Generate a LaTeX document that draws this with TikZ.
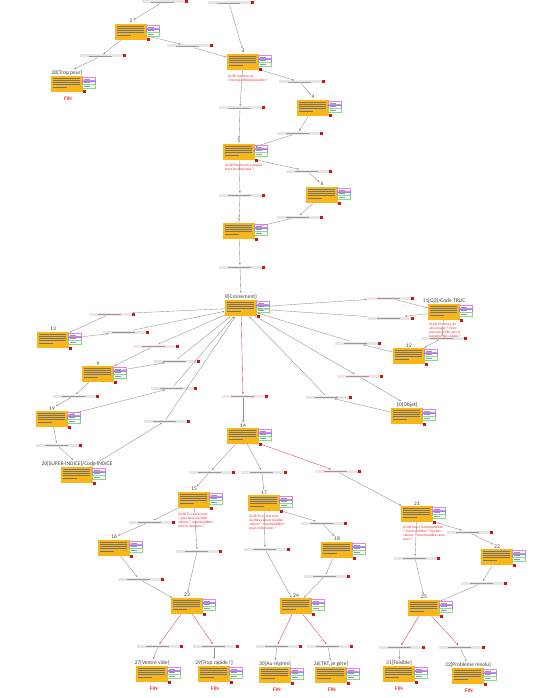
\documentclass[tikz,border=0pt]{standalone}
\usepackage{fontspec}
\setmainfont{Carlito}
\usetikzlibrary{positioning, arrows.meta}
\definecolor{ficheorange}{RGB}{249,182,22}
\definecolor{carrerouge}{RGB}{200,20,30}
\definecolor{lienrose}{RGB}{210,60,110}
\definecolor{noterouge}{RGB}{235,50,50}
\definecolor{ongletrose}{RGB}{225,130,235}
\definecolor{ongletbleu}{RGB}{140,140,240}
\definecolor{ongletvert}{RGB}{130,220,130}
\definecolor{choixgris}{RGB}{230,230,230}
\definecolor{choixrose}{RGB}{250,226,229}

\tikzset{
  fiche/.style={fill=ficheorange, minimum width=32pt, minimum height=16pt, inner sep=0pt},
  titre/.style={font=\fontsize{5.5}{6}\selectfont, text=black!75, inner sep=0.6pt, anchor=south},
  onglet/.style={draw, fill=white, line width=0.25pt, minimum width=13pt, minimum height=3.6pt, inner sep=0pt},
  carre/.style={fill=carrerouge, minimum size=3pt, inner sep=0pt},
  choix/.style={fill=choixgris, minimum width=43pt, minimum height=3pt, inner sep=0pt},
  choixr/.style={choix, fill=choixrose},
  lien/.style={-{Stealth[length=2.2pt,width=1.8pt]}, draw=black!45, line width=0.35pt, shorten >=0.3pt},
  lienr/.style={lien, draw=lienrose},
  note/.style={font=\fontsize{3.6}{3.8}\selectfont, text=noterouge, align=left, inner sep=0pt, anchor=north west},
  fin/.style={font=\bfseries\fontsize{5.5}{6}\selectfont, text=noterouge, inner sep=0pt},
  trait/.style={draw=black!55, line width=0.22pt},
}

% fiche: number, x, y, title  -> nodes n#1 (box), l#1 (title), r#1 (red square)
\newcommand{\fiche}[4]{%
  \node[fiche] (n#1) at (#2,#3) {};
  \node[titre] (l#1) at (n#1.north) {#4};
  \foreach \k/\lg in {1/27,2/27,3/27,4/27,5/14}
    \draw[trait] ({#2-14},{#3-8.2+\k*2.2}) -- ++(\lg,0);
  \node[onglet, draw=ongletrose, anchor=north west] (ta#1) at ({#2+15},{#3-7.3}) {};
  \node[onglet, draw=ongletbleu, below=0pt of ta#1] (tb#1) {};
  \node[onglet, draw=ongletvert, below=0pt of tb#1] (tc#1) {};
  \foreach \t in {ta,tb,tc}
    \draw[black!40, line width=0.22pt] ([xshift=1.5pt]\t#1.west) -- ++(6,0);
  \node[carre] (r#1) at ({#2+17.5},{#3+8}) {};
}
% choix: [style] name, x, y
\newcommand{\choix}[4][choix]{%
  \node[#1] (#2) at (#3,#4) {};
  \draw[black!40, line width=0.35pt] ([xshift=10pt]#2.west) -- ([xshift=-11pt]#2.east);
  \node[carre, anchor=west] at ([xshift=-0.3pt]#2.east) {};
}

\begin{document}
\begin{tikzpicture}[x=1pt, y=-1pt]
  \useasboundingbox (0,0) rectangle (548,698);

  % Fiches
  \fiche{2}{131}{32}{2}
  \fiche{28}{67}{84}{28[Trop peur]}
  \fiche{3}{243}{62}{3}
  \fiche{4}{313}{108}{4}
  \fiche{5}{239}{152}{5}
  \fiche{6}{322}{195}{6}
  \fiche{7}{239}{231}{7}
  \fiche{8}{241}{308}{8[Croisement]}
  \fiche{13}{53}{340}{13}
  \fiche{9}{98}{374}{9}
  \fiche{19}{52}{419}{19}
  \fiche{20}{77}{475}{20[SUPER-INDICE]/Code INDICE}
  \fiche{11}{444}{312}{11[Q3]/Code TRUC}
  \fiche{12}{409}{356}{12}
  \fiche{10}{407}{416}{10[Objet]}
  \fiche{14}{243}{436}{14}
  \fiche{15}{194}{500}{15}
  \fiche{17}{264}{503}{17}
  \fiche{16}{114}{548}{16}
  \fiche{18}{337}{550}{18}
  \fiche{23}{187}{606}{23}
  \fiche{24}{296}{606}{24}
  \fiche{21}{417}{514}{21}
  \fiche{22}{497}{557}{22}
  \fiche{25}{424}{608}{25}
  \fiche{27}{152}{674}{27[Ventre vide]}
  \fiche{29}{214}{674}{29[Trop rapide !]}
  \fiche{30}{275}{675}{30[Au régime]}
  \fiche{26}{331}{675}{26[TKT, je gère]}
  \fiche{31}{399}{674}{31[Faisible]}
  \fiche{32}{468}{676}{32[Problème résolu]}

  % FIN
  \node[fin] (f28) at (68,99) {FIN};
  \node[fin] (f27) at (154,689) {FIN};
  \node[fin] (f29) at (215,689) {FIN};
  \node[fin] (f30) at (277,690) {FIN};
  \node[fin] (f26) at (332,690) {FIN};
  \node[fin] (f31) at (399,689) {FIN};
  \node[fin] (f32) at (469,691) {FIN};

  % QUID notes
  \node[note] (q3) at (228,75) {QUID Contenu de\\l'incompatibilité/possible ?};
  \node[note] (q5) at (225,164) {QUID Sentiment à propos\\pour les enquêtés ?};
  \node[note] (q11) at (429,323) {QUID Structure du\\vécu/usage ? Faire\\une passerelle vers la\\question des usages ?};
  \node[note] (q15) at (178,513) {QUID Tu es d'accord,\\? pourquoi, Quelles\\valeurs ? Incompatibles\\avec le domaine ?};
  \node[note] (q17) at (249,515) {QUID Tu es d'accord,\\Quelles valeurs Quelles\\valeurs ? Incompatibles\\pour le domaine ?};
  \node[note] (q21) at (403,526) {QUID Tous l'incompatibilité\\? Incompatibles ? Quelles\\valeurs ? Incompatibles avec\\quoi ?};

  % Choix
  \choix{bt1}{163}{2}
  \choix{bt2}{229}{3}
  \choix{b2a}{101}{56}
  \choix{b2b}{188}{46}
  \choix{b3a}{300}{82}
  \choix{b3b}{240}{108}
  \choix{b4}{298}{133}
  \choix{b5a}{307}{171}
  \choix{b5b}{240}{195}
  \choix{b6}{298}{217}
  \choix{b7}{240}{267}
  \choix[choixr]{b8a}{110}{314}
  \choix{b13}{124}{332}
  \choix[choixr]{b8b}{154}{346}
  \choix{b9a}{175}{361}
  \choix{b9b}{74}{396}
  \choix{b19a}{172}{388}
  \choix{b19b}{57}{445}
  \choix{b20}{165}{421}
  \choix[choixr]{b8c}{389}{298}
  \choix{b11a}{389}{318}
  \choix{b11b}{442}{338}
  \choix{b12}{356}{343}
  \choix[choixr]{b8e}{358}{376}
  \choix{b10}{327}{397}
  \choix[choixr]{b8f}{243}{396}
  \choix{b14a}{210}{472}
  \choix{b14b}{262}{472}
  \choix[choixr]{b14c}{336}{471}
  \choix{b15a}{150}{522}
  \choix{b15b}{197}{551}
  \choix{b16}{139}{579}
  \choix{b17a}{265}{549}
  \choix{b17b}{322}{523}
  \choix{b18}{325}{576}
  \choix{b21a}{468}{532}
  \choix{b21b}{415}{558}
  \choix{b22}{482}{583}
  \choix{b23a}{158}{646}
  \choix{b23b}{214}{646}
  \choix{b24a}{277}{646}
  \choix{b24b}{328}{646}
  \choix{b25a}{400}{647}
  \choix{b25b}{460}{647}

  % Liens
  \draw[lien] (bt1) -- (l2);
  \draw[lien] (bt2) -- (l3);
  \draw[lien] (n2) -- (b2a);
  \draw[lien] (b2a) -- (l28);
  \draw[lien] (n2) -- (b2b);
  \draw[lien] (b2b) -- (n3);
  \draw[lien] (r3) -- (b3a);
  \draw[lien] (b3a) -- (l4);
  \draw[lien] (n3) -- (b3b);
  \draw[lien] (b3b) -- (l5);
  \draw[lien] (n4) -- (b4);
  \draw[lien] (b4) -- (n5);
  \draw[lien] (r5) -- (b5a);
  \draw[lien] (b5a) -- (l6);
  \draw[lien] (n5) -- (b5b);
  \draw[lien] (b5b) -- (l7);
  \draw[lien] (n6) -- (b6);
  \draw[lien] (b6) -- (n7);
  \draw[lien] (n7) -- (b7);
  \draw[lien] (b7) -- (l8);

  % around 8
  \draw[lien] (n8) -- (b8a);
  \draw[lien] (b8a) -- (n13);
  \draw[lien] (n13) -- (b13);
  \draw[lien] (b13) -- (n8);
  \draw[lien] (n8) -- (b8b);
  \draw[lien] (b8b) -- (n9);
  \draw[lien] (n9) -- (b9a);
  \draw[lien] (b9a) -- (n8);
  \draw[lien] (n9) -- (b9b);
  \draw[lien] (b9b) -- (l19);
  \draw[lien] (n19) -- (b19a);
  \draw[lien] (b19a) -- (n8);
  \draw[lien] (n19) -- (b19b);
  \draw[lien] (b19b) -- (l20);
  \draw[lien] (n20) -- (b20);
  \draw[lien] (b20) -- (n8);
  \draw[lien] (n8) -- (b8c);
  \draw[lien] (b8c) -- (n11);
  \draw[lien] (n11) -- (b11a);
  \draw[lien] (b11a) -- (n8);
  \draw[lien] (n11) -- (b11b);
  \draw[lien] (b11b) -- (n12);
  \draw[lien] (n12) -- (b12);
  \draw[lien] (b12) -- (n8);
  \draw[lien] (n8) -- (b8e);
  \draw[lien] (b8e) -- (l10);
  \draw[lien] (n10) -- (b10);
  \draw[lien] (b10) -- (n8);
  \draw[lienr] (n8) -- (b8f);
  \draw[lien] (b8f) -- (l14);

  % 14 and below
  \draw[lien] (n14) -- (b14a);
  \draw[lien] (b14a) -- (l15);
  \draw[lien] (n14) -- (b14b);
  \draw[lien] (b14b) -- (l17);
  \draw[lienr] (r14) -- (b14c);
  \draw[lien] (b14c) -- (n21);
  \draw[lien] (n15) -- (b15a);
  \draw[lien] (b15a) -- (l16);
  \draw[lien] (n15) -- (b15b);
  \draw[lien] (b15b) -- (l23);
  \draw[lien] (n16) -- (b16);
  \draw[lien] (b16) -- (n23);
  \draw[lien] (n17) -- (b17a);
  \draw[lien] (b17a) -- (n24);
  \draw[lien] (r17) -- (b17b);
  \draw[lien] (b17b) -- (l18);
  \draw[lien] (n18) -- (b18);
  \draw[lien] (b18) -- (n24);
  \draw[lien] (r21) -- (b21a);
  \draw[lien] (b21a) -- (l22);
  \draw[lien] (n21) -- (b21b);
  \draw[lien] (b21b) -- (l25);
  \draw[lien] (n22) -- (b22);
  \draw[lien] (b22) -- (n25);

  % endings
  \draw[lienr] (n23) -- (b23a);
  \draw[lien] (b23a) -- (l27);
  \draw[lienr] (n23) -- (b23b);
  \draw[lien] (b23b) -- (l29);
  \draw[lienr] (n24) -- (b24a);
  \draw[lien] (b24a) -- (l30);
  \draw[lienr] (n24) -- (b24b);
  \draw[lien] (b24b) -- (l26);
  \draw[lienr] (n25) -- (b25a);
  \draw[lien] (b25a) -- (l31);
  \draw[lienr] (n25) -- (b25b);
  \draw[lien] (b25b) -- (l32);
\end{tikzpicture}
\end{document}
